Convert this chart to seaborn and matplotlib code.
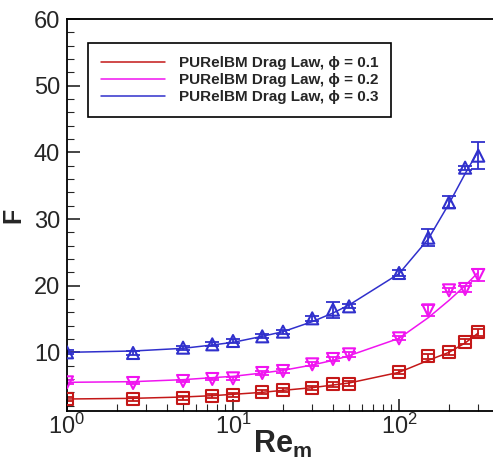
import matplotlib
matplotlib.use("Agg")
import matplotlib.pyplot as plt
import numpy as np
import pandas as pd
import seaborn as sns
from matplotlib.ticker import LogLocator, MultipleLocator, NullFormatter

# Reynolds numbers of the simulations
re_m = [1, 2.5, 5, 7.5, 10, 15, 20, 30, 40, 50, 100, 150, 200, 250, 300]

# simulation data (markers) and half error bars
f_01 = [3.0, 3.0, 3.1, 3.4, 3.6, 4.0, 4.3, 4.6, 5.2, 5.3, 7.1, 9.4, 10.0, 11.6, 13.0]
f_02 = [5.5, 5.4, 5.7, 6.0, 6.1, 6.9, 7.2, 8.2, 9.0, 9.7, 12.1, 16.3, 19.3, 19.5, 21.6]
f_03 = [10.0, 9.9, 10.7, 11.2, 11.7, 12.4, 13.1, 15.1, 16.4, 16.9, 21.9, 27.2, 32.5, 37.7, 39.5]
err_01 = [0.3, 0.3, 0.3, 0.3, 0.3, 0.3, 0.3, 0.3, 0.4, 0.4, 0.3, 0.4, 0.4, 0.4, 0.5]
err_02 = [0.3, 0.2, 0.2, 0.2, 0.2, 0.3, 0.3, 0.3, 0.3, 0.4, 0.3, 0.8, 0.3, 0.4, 0.9]
err_03 = [0.3, 0.3, 0.3, 0.3, 0.3, 0.3, 0.3, 0.4, 1.2, 0.3, 0.5, 1.3, 0.9, 0.3, 2.0]

# drag law curves
law_01 = [3.0, 3.1, 3.3, 3.5, 3.7, 4.0, 4.3, 4.7, 5.1, 5.4, 7.0, 8.8, 10.0, 11.4, 12.9]
law_02 = [5.5, 5.6, 5.9, 6.2, 6.4, 6.9, 7.3, 8.1, 8.8, 9.5, 12.1, 15.2, 17.8, 20.0, 22.0]
law_03 = [10.0, 10.2, 10.6, 11.1, 11.5, 12.4, 13.1, 14.6, 15.9, 17.1, 21.8, 27.0, 32.3, 36.8, 40.2]

phis = ["0.1", "0.2", "0.3"]
colors = ["#c41818", "#f014f0", "#3030cc"]
markers = ["s", "v", "^"]

sns.set_style("ticks")
plt.rcParams["font.family"] = ["Liberation Sans", "DejaVu Sans"]
plt.rcParams["mathtext.fontset"] = "custom"
plt.rcParams["mathtext.rm"] = "Liberation Sans"
plt.rcParams["mathtext.bf"] = "Liberation Sans:bold"

fig = plt.figure(figsize=(4.93, 4.65), dpi=100)
ax = fig.add_axes([67 / 493, 54 / 465, 432 / 493, 392 / 465])

for phi, law, data, err, c, m in zip(phis, [law_01, law_02, law_03],
                                     [f_01, f_02, f_03], [err_01, err_02, err_03],
                                     colors, markers):
    df = pd.DataFrame({"Re": re_m, "F": law})
    sns.lineplot(data=df, x="Re", y="F", color=c, lw=1.1, ax=ax,
                 label="PURelBM Drag Law, \u03d5 = " + phi)
    ax.errorbar(re_m, data, yerr=err, fmt="none", ecolor=c, elinewidth=1.3,
                capsize=5, capthick=1.3)
    sns.scatterplot(x=re_m, y=data, marker=m, s=75, facecolor="none",
                    edgecolor=c, linewidth=1.5, ax=ax, zorder=3)

ax.set_xscale("log")
ax.set_xlim(1, 400)
ax.set_ylim(1.2, 60)
ax.yaxis.set_major_locator(MultipleLocator(10))
ax.yaxis.set_minor_locator(MultipleLocator(2))
ax.xaxis.set_major_locator(LogLocator(base=10))
ax.xaxis.set_minor_locator(LogLocator(base=10, subs=np.arange(2, 10)))
ax.xaxis.set_minor_formatter(NullFormatter())
ax.tick_params(which="major", direction="in", length=9, width=1.2,
               labelsize=17, pad=5)
ax.tick_params(axis="x", which="major", pad=2)
ax.tick_params(which="minor", direction="in", length=5, width=0.8)
for s in ax.spines.values():
    s.set_linewidth(1.3)
    s.set_color("black")

ax.set_xlabel(r"$\mathbf{Re}_\mathbf{m}$", fontsize=22, labelpad=-7)
ax.set_ylabel("F", fontsize=18, fontweight="bold", labelpad=6)

leg = ax.legend(loc="upper left", bbox_to_anchor=(88 / 493, 1 - 43 / 465),
                bbox_transform=fig.transFigure, borderaxespad=0,
                fancybox=False, framealpha=1, edgecolor="black",
                handlelength=4.2, handletextpad=0.9, labelspacing=0.2,
                borderpad=0.85,
                prop={"weight": "bold", "size": 11})
leg.get_frame().set_linewidth(1.2)

fig.savefig("out.png", dpi=100)
